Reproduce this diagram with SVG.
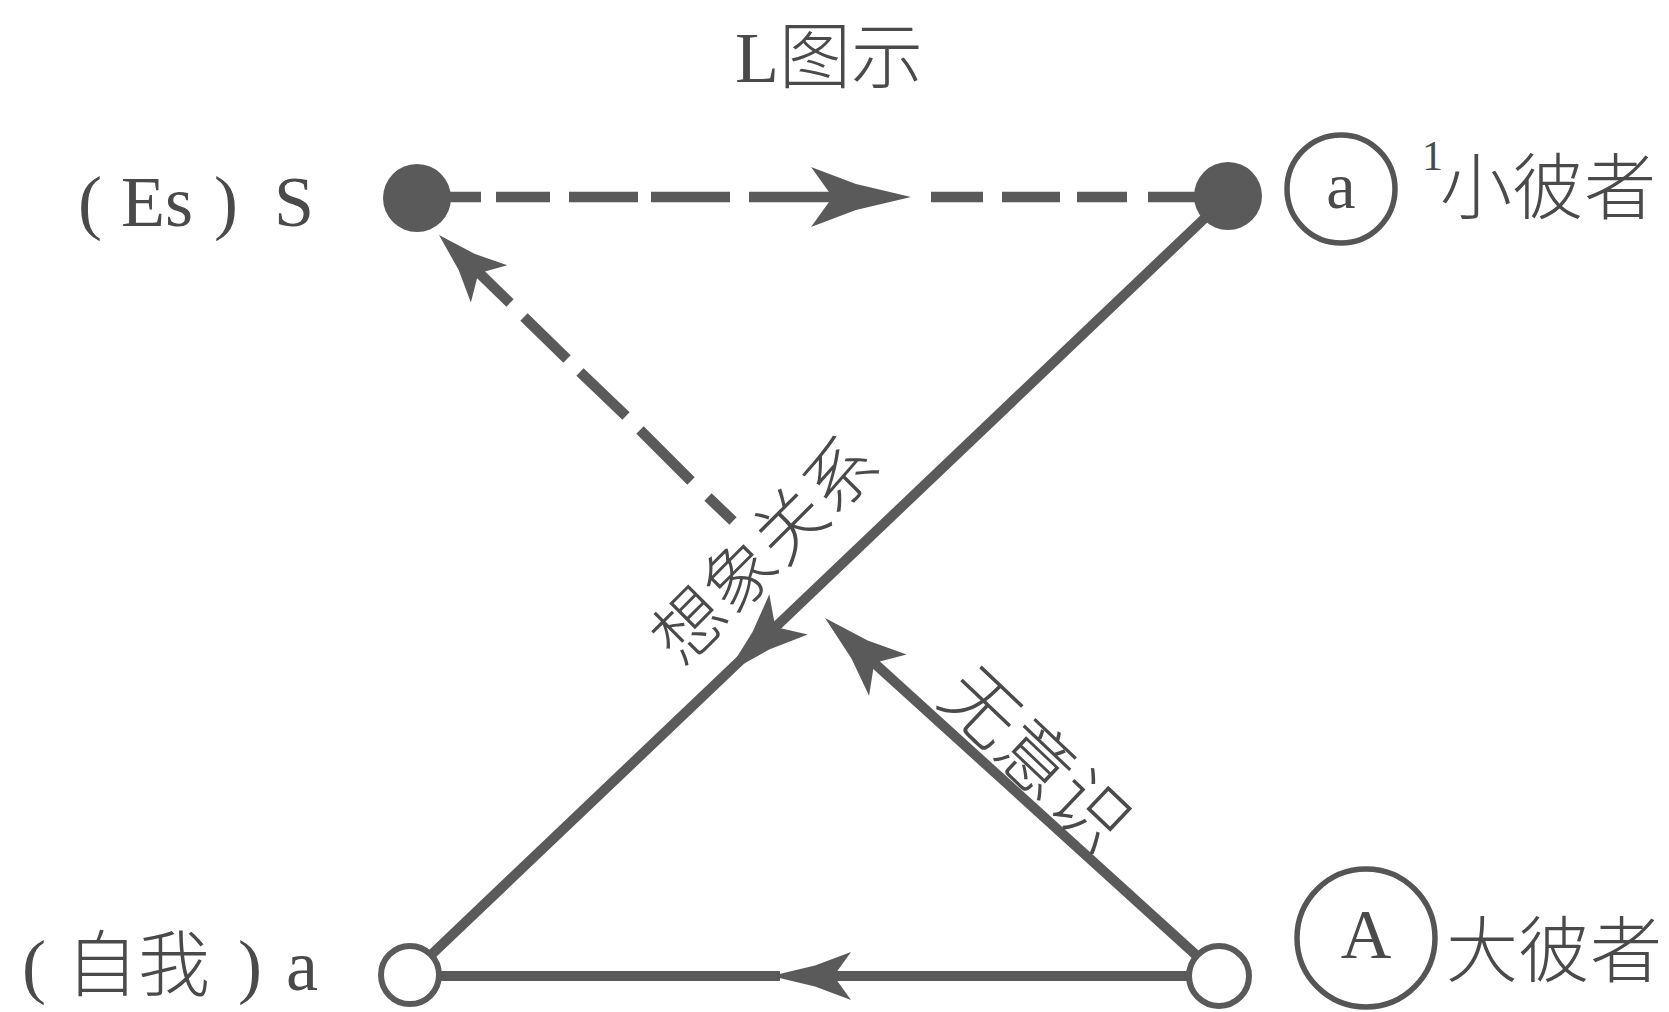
<svg xmlns="http://www.w3.org/2000/svg" xmlns:xlink="http://www.w3.org/1999/xlink" width="1669" height="1012" viewBox="0 0 1669 1012">
<style>
.ln{stroke:#5a5a5a;stroke-width:10;fill:none}
.dl{stroke:#5a5a5a;stroke-width:10.5;fill:none}
.ah{fill:#5a5a5a}
.fill{fill:#5a5a5a}
.open{fill:#fff;stroke:#5a5a5a;stroke-width:6}
.ring{fill:none;stroke:#555;stroke-width:5.5}
.lat{font-family:"Liberation Serif","Noto Sans CJK SC",serif;fill:#4a4a4a}
.cjk{font-family:"Liberation Serif","Noto Sans CJK SC",serif;fill:#4a4a4a;font-weight:300}
</style>
<defs>
<path id="ah" d="M0,0 L-55,-13 L-100,-30 L-82,-5 L-82,5 L-100,30 L-55,13 Z"/>
</defs>
<rect width="1669" height="1012" fill="#fff"/>
<g id="connectors">
<path class="dl" d="M443,197 L481,197 M496,197 L550,197 M569,197 L638,197 M651,197 L730,197 M749,197 L830,197 M931,197 L983,197 M1002,197 L1060,197 M1077,197 L1127,197 M1148,197 L1200,197"/>
<use href="#ah" class="ah" transform="translate(911,197)"/>
<line class="ln" x1="1228" y1="196" x2="410" y2="975"/>
<use href="#ah" class="ah" transform="translate(727,673) rotate(136.4) scale(0.85,0.93)"/>
<line class="ln" x1="1196" y1="955" x2="862" y2="652"/>
<use href="#ah" class="ah" transform="translate(825,618) rotate(-137.7) scale(0.85,0.93)"/>
<path class="dl" d="M733,521 L708,497 M691,481 L640,430 M626,416 L580,372 M567,359 L524,317 M510,303 L470,264"/>
<use href="#ah" class="ah" transform="translate(439,235) rotate(-135.7) scale(0.7,0.87)"/>
<line class="ln" x1="1219" y1="976" x2="800" y2="976"/>
<line class="ln" x1="780" y1="976" x2="410" y2="976"/>
<use href="#ah" class="ah" transform="translate(771,976) rotate(180) scale(0.8)"/>
</g>
<g id="title"><text class="cjk" x="735" y="82" font-size="72">L图示</text></g>
<g id="node-S">
<circle class="fill" cx="417" cy="198" r="34"/>
<text class="lat" y="226" font-size="72"><tspan x="78">(</tspan><tspan x="121">Es</tspan><tspan x="214">)</tspan><tspan x="274">S</tspan></text>
</g>
<g id="node-a-prime">
<circle class="fill" cx="1228" cy="196" r="34"/>
<circle class="ring" cx="1341" cy="189" r="54"/>
<text class="lat" x="1341" y="208" font-size="66" text-anchor="middle">a</text>
<text class="lat" x="1422" y="170" font-size="42">1</text>
<text class="cjk" x="1440" y="213" font-size="72">小彼者</text>
</g>
<g id="node-a">
<circle class="open" cx="410" cy="975" r="29"/>
<text class="cjk" y="990" font-size="72"><tspan x="22">(</tspan><tspan x="66">自我</tspan><tspan x="238">)</tspan><tspan x="286">a</tspan></text>
</g>
<g id="node-A">
<circle class="open" cx="1219" cy="976" r="30"/>
<circle class="ring" cx="1366" cy="938" r="69"/>
<text class="lat" x="1366" y="958" font-size="70" text-anchor="middle">A</text>
<text class="cjk" x="1446" y="976" font-size="72">大彼者</text>
</g>
<g id="labels">
<text class="cjk" x="766" y="551" font-size="71" text-anchor="middle" dominant-baseline="central" transform="rotate(-45 766 551)">想象关系</text>
<text class="cjk" x="1035" y="760" font-size="75" text-anchor="middle" dominant-baseline="central" transform="rotate(43.5 1035 760)">无意识</text>
</g>
</svg>
